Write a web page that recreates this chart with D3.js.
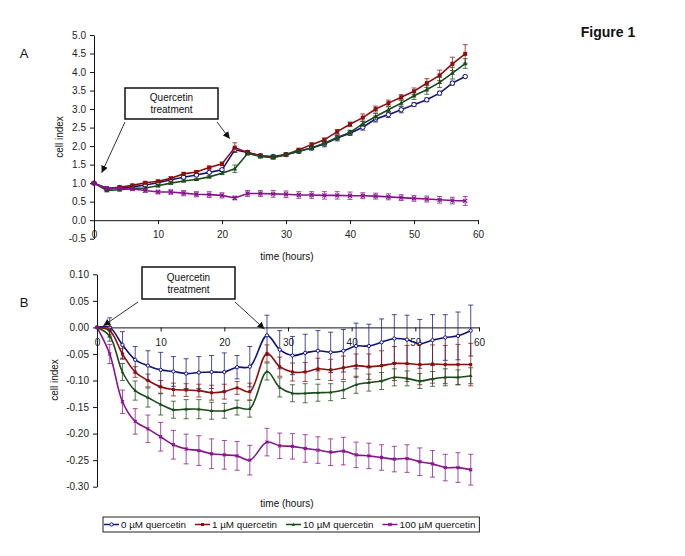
<!DOCTYPE html>
<html>

<head>
  <title>Figure 1</title>
</head>

<body>

  <svg id="svg" width="685" height="556"></svg>

  <script src="https://d3js.org/d3.v7.min.js"></script>
  <script>
    // hours for panel A and panel B (B is shifted a bit after the second treatment)
    const hoursA = [0, 2, 4, 6, 8, 10, 12, 14, 16, 18, 20, 22, 24, 26, 28, 30, 32, 34, 36, 38, 40, 42, 44, 46, 48, 50, 52, 54, 56, 58]
    const hoursB = [0, 2, 4, 6, 8, 10, 12, 14, 16, 18, 20, 22, 24, 26.7, 28.7, 30.7, 32.7, 34.7, 36.7, 38.7, 40.7, 42.7, 44.7, 46.7, 48.7, 50.7, 52.7, 54.7, 56.7, 58.7]

    const labels = ['0 µM quercetin', '1 µM quercetin', '10 µM quercetin', '100 µM quercetin']

    // panel A cell index
    const cellA0 = [1.00, 0.84, 0.88, 0.90, 0.95, 1.01, 1.09, 1.16, 1.22, 1.29, 1.36, 1.90, 1.83, 1.74, 1.72, 1.77, 1.86, 1.95, 2.06, 2.22, 2.35, 2.51, 2.73, 2.85, 2.98, 3.12, 3.25, 3.43, 3.70, 3.88]
    const cellA1 = [1.00, 0.86, 0.89, 0.94, 1.01, 1.05, 1.13, 1.25, 1.30, 1.42, 1.52, 1.96, 1.83, 1.74, 1.70, 1.77, 1.90, 2.04, 2.17, 2.39, 2.59, 2.77, 3.00, 3.16, 3.32, 3.48, 3.70, 3.91, 4.22, 4.49]
    const cellA10 = [1.00, 0.80, 0.82, 0.86, 0.87, 0.93, 1.00, 1.06, 1.10, 1.17, 1.27, 1.39, 1.80, 1.72, 1.69, 1.77, 1.86, 1.95, 2.08, 2.23, 2.37, 2.60, 2.80, 2.98, 3.16, 3.36, 3.52, 3.72, 3.97, 4.23]
    const cellA100 = [1.00, 0.86, 0.86, 0.84, 0.80, 0.76, 0.76, 0.73, 0.70, 0.69, 0.67, 0.60, 0.72, 0.72, 0.71, 0.70, 0.68, 0.68, 0.67, 0.67, 0.66, 0.66, 0.65, 0.63, 0.61, 0.59, 0.57, 0.55, 0.53, 0.52]

    const errA0 = [0.02, 0.03, 0.03, 0.03, 0.03, 0.03, 0.03, 0.03, 0.03, 0.03, 0.04, 0.06, 0.04, 0.04, 0.04, 0.04, 0.05, 0.05, 0.08, 0.08, 0.06, 0.08, 0.08, 0.08, 0.08, 0.05, 0.05, 0.05, 0.05, 0.03]
    const errA1 = [0.02, 0.03, 0.03, 0.03, 0.03, 0.03, 0.04, 0.04, 0.04, 0.04, 0.05, 0.13, 0.05, 0.04, 0.04, 0.04, 0.04, 0.05, 0.05, 0.06, 0.06, 0.10, 0.08, 0.08, 0.07, 0.09, 0.12, 0.14, 0.18, 0.25]
    const errA10 = [0.02, 0.03, 0.03, 0.03, 0.03, 0.03, 0.03, 0.03, 0.03, 0.03, 0.04, 0.10, 0.04, 0.04, 0.04, 0.04, 0.04, 0.05, 0.05, 0.06, 0.06, 0.07, 0.08, 0.08, 0.08, 0.10, 0.12, 0.14, 0.16, 0.13]
    const errA100 = [0.02, 0.03, 0.03, 0.04, 0.05, 0.05, 0.06, 0.07, 0.07, 0.08, 0.07, 0.05, 0.08, 0.08, 0.09, 0.09, 0.09, 0.09, 0.10, 0.10, 0.10, 0.08, 0.08, 0.08, 0.08, 0.08, 0.08, 0.09, 0.09, 0.12]

    // panel B cell index
    const cellB0 = [0, 0, -0.033, -0.061, -0.072, -0.080, -0.083, -0.087, -0.085, -0.084, -0.084, -0.075, -0.074, -0.015, -0.042, -0.053, -0.048, -0.044, -0.047, -0.044, -0.035, -0.035, -0.028, -0.021, -0.023, -0.031, -0.024, -0.019, -0.016, -0.006]
    const cellB1 = [0, -0.006, -0.050, -0.084, -0.100, -0.112, -0.117, -0.118, -0.119, -0.123, -0.121, -0.114, -0.121, -0.049, -0.074, -0.084, -0.084, -0.078, -0.080, -0.076, -0.072, -0.074, -0.072, -0.068, -0.068, -0.070, -0.069, -0.070, -0.070, -0.070]
    const cellB10 = [0, -0.016, -0.084, -0.119, -0.132, -0.145, -0.155, -0.154, -0.154, -0.157, -0.157, -0.151, -0.153, -0.083, -0.113, -0.124, -0.124, -0.123, -0.122, -0.118, -0.108, -0.104, -0.101, -0.094, -0.096, -0.101, -0.097, -0.094, -0.094, -0.091]
    const cellB100 = [0, -0.050, -0.140, -0.177, -0.191, -0.206, -0.221, -0.229, -0.232, -0.238, -0.240, -0.242, -0.250, -0.216, -0.223, -0.224, -0.228, -0.231, -0.235, -0.233, -0.240, -0.242, -0.245, -0.248, -0.247, -0.253, -0.257, -0.264, -0.264, -0.268]

    const errB0 = [0, 0.018, 0.025, 0.025, 0.028, 0.033, 0.028, 0.028, 0.030, 0.031, 0.036, 0.022, 0.038, 0.038, 0.036, 0.036, 0.035, 0.038, 0.038, 0.040, 0.043, 0.041, 0.044, 0.045, 0.046, 0.046, 0.048, 0.043, 0.045, 0.048]
    const errB1 = [0, 0.008, 0.010, 0.010, 0.012, 0.012, 0.012, 0.012, 0.012, 0.014, 0.014, 0.012, 0.016, 0.016, 0.018, 0.017, 0.018, 0.020, 0.020, 0.022, 0.022, 0.024, 0.028, 0.032, 0.034, 0.038, 0.036, 0.036, 0.038, 0.040]
    const errB10 = [0, 0.010, 0.016, 0.018, 0.018, 0.020, 0.016, 0.018, 0.018, 0.016, 0.014, 0.014, 0.016, 0.016, 0.018, 0.016, 0.018, 0.016, 0.016, 0.016, 0.016, 0.016, 0.016, 0.016, 0.014, 0.014, 0.014, 0.016, 0.014, 0.015]
    const errB100 = [0, 0.018, 0.022, 0.024, 0.026, 0.027, 0.027, 0.028, 0.028, 0.028, 0.027, 0.027, 0.028, 0.026, 0.024, 0.024, 0.026, 0.025, 0.025, 0.026, 0.024, 0.024, 0.024, 0.024, 0.026, 0.026, 0.025, 0.025, 0.028, 0.029]

    const ticksX = [0, 10, 20, 30, 40, 50, 60]
    const ticksA = [-0.5, 0, 0.5, 1, 1.5, 2, 2.5, 3, 3.5, 4, 4.5, 5]
    const ticksB = [-0.30, -0.25, -0.20, -0.15, -0.10, -0.05, 0, 0.05, 0.10]

    const colors = ['#12127a', '#8c0e0e', '#1b4a1b', '#86148a']
    const markers = ['circle', 'square', 'triangle', 'cross']

    const series = labels.map((name, i) => ({
      name: name,
      color: colors[i],
      marker: markers[i],
      a: [cellA0, cellA1, cellA10, cellA100][i],
      ea: [errA0, errA1, errA10, errA100][i],
      b: [cellB0, cellB1, cellB10, cellB100][i],
      eb: [errB0, errB1, errB10, errB100][i]
    }))

    const font = 'Liberation Sans, Arial, sans-serif'
    const svg = d3.select('#svg')
      .style('font-family', font)

    svg.append('rect').attr('width', 685).attr('height', 556).attr('fill', 'white')

    svg.append('defs').append('marker')
      .attr('id', 'arrow')
      .attr('viewBox', '0 0 10 10')
      .attr('refX', 10).attr('refY', 5)
      .attr('markerWidth', 7).attr('markerHeight', 7)
      .attr('markerUnits', 'userSpaceOnUse')
      .attr('orient', 'auto')
      .append('path')
      .attr('d', 'M0,0L10,5L0,10Z')
      .attr('fill', '#111')

    function drawMarker(g, type, x, y, color, s) {
      if (type === 'circle') {
        g.append('circle').attr('cx', x).attr('cy', y).attr('r', s * 0.55)
          .attr('fill', 'white').attr('stroke', color).attr('stroke-width', 1)
      } else if (type === 'square') {
        g.append('rect').attr('x', x - s / 2).attr('y', y - s / 2).attr('width', s).attr('height', s)
          .attr('fill', color)
      } else if (type === 'triangle') {
        const h = s * 0.6
        g.append('path').attr('d', `M${x},${y - h}L${x + h},${y + h * 0.7}L${x - h},${y + h * 0.7}Z`)
          .attr('fill', color)
      } else {
        const h = s * 0.5
        g.append('path').attr('d', `M${x - h},${y - h}L${x + h},${y + h}M${x - h},${y + h}L${x + h},${y - h}`)
          .attr('stroke', color).attr('stroke-width', 1.2)
      }
    }

    function drawPanel(opts) {
      const { xscale, yscale, hours, key, ekey, ticksY, fmt, curve, msize, pad } = opts
      const g = svg.append('g')

      // axes
      g.append('g')
        .attr('transform', `translate(${xscale(0)},0)`)
        .call(d3.axisLeft(yscale).tickValues(ticksY).tickFormat(fmt).tickSize(4).tickSizeOuter(0).tickPadding(4))
      g.append('g')
        .attr('transform', `translate(0,${yscale(0)})`)
        .call(d3.axisBottom(xscale).tickValues(ticksX).tickSize(4).tickSizeOuter(0).tickPadding(pad))
      g.selectAll('.tick text').attr('font-size', 10).attr('font-family', font).attr('fill', '#222')
      g.selectAll('.domain, .tick line').attr('stroke', '#111')

      series.forEach(s => {
        const pts = hours.map((h, i) => ({ h: h, v: s[key][i], e: s[ekey][i] }))
        // error bars
        const eb = g.append('g').attr('stroke', s.color).attr('stroke-opacity', 0.75).attr('stroke-width', 1)
        pts.forEach(d => {
          if (!d.e) return
          const x = xscale(d.h)
          eb.append('line').attr('x1', x).attr('x2', x)
            .attr('y1', yscale(d.v - d.e)).attr('y2', yscale(d.v + d.e))
          eb.append('line').attr('x1', x - 2.5).attr('x2', x + 2.5)
            .attr('y1', yscale(d.v - d.e)).attr('y2', yscale(d.v - d.e))
          eb.append('line').attr('x1', x - 2.5).attr('x2', x + 2.5)
            .attr('y1', yscale(d.v + d.e)).attr('y2', yscale(d.v + d.e))
        })
        const linegen = d3.line()
          .x(d => xscale(d.h))
          .y(d => yscale(d.v))
          .curve(curve)
        g.append('path')
          .attr('d', linegen(pts))
          .attr('fill', 'none')
          .attr('stroke', s.color)
          .attr('stroke-width', 1.6)
        const mg = g.append('g')
        pts.forEach(d => drawMarker(mg, s.marker, xscale(d.h), yscale(d.v), s.color, msize))
      })
      return g
    }

    // ---- panel A ----
    const xA = d3.scaleLinear().domain([0, 60]).range([94, 478])
    const yA = d3.scaleLinear().domain([-0.5, 5]).range([238.7, 35])
    drawPanel({ xscale: xA, yscale: yA, hours: hoursA, key: 'a', ekey: 'ea', ticksY: ticksA, fmt: d => d.toFixed(1), curve: d3.curveLinear, msize: 4, pad: 7 })

    // ---- panel B ----
    const xB = d3.scaleLinear().domain([0, 60]).range([97, 479])
    const yB = d3.scaleLinear().domain([-0.30, 0.10]).range([486.7, 274.3])
    drawPanel({ xscale: xB, yscale: yB, hours: hoursB, key: 'b', ekey: 'eb', ticksY: ticksB, fmt: d => d.toFixed(2), curve: d3.curveCatmullRom, msize: 3, pad: 8 })

    // titles
    function text(x, y, str, size, extra) {
      const t = svg.append('text').attr('x', x).attr('y', y).text(str)
        .attr('font-size', size).attr('text-anchor', 'middle').attr('dominant-baseline', 'central').attr('fill', '#111')
      if (extra) extra(t)
      return t
    }
    text(608, 32, 'Figure 1', 14, t => t.attr('font-weight', 'bold'))
    text(24, 53, 'A', 13)
    text(24, 302, 'B', 13)
    text(287, 256, 'time (hours)', 10)
    text(287, 503, 'time (hours)', 10)
    text(59, 137, 'cell index', 10, t => t.attr('transform', 'rotate(-90,59,137)'))
    text(54, 380, 'cell index', 10, t => t.attr('transform', 'rotate(-90,54,380)'))

    // treatment callouts
    function callout(x, y, w, h, arrows) {
      svg.append('rect').attr('x', x).attr('y', y).attr('width', w).attr('height', h)
        .attr('fill', 'white').attr('stroke', '#111').attr('stroke-width', 1.5)
      text(x + w / 2, y + h / 2 - 6, 'Quercetin', 10)
      text(x + w / 2, y + h / 2 + 6, 'treatment', 10)
      arrows.forEach(a => {
        svg.append('line').attr('x1', a[0]).attr('y1', a[1]).attr('x2', a[2]).attr('y2', a[3])
          .attr('stroke', '#333').attr('stroke-width', 1).attr('marker-end', 'url(#arrow)')
      })
    }
    callout(125, 88, 93, 31, [[125, 122, xA(1.2), yA(1.28)], [217, 122, xA(21.2), yA(2.2)]])
    callout(142, 267, 93, 32, [[138, 302, xB(1.0), yB(0.003)], [235, 302, xB(26.3), yB(-0.003)]])

    // legend
    const legend = svg.append('g')
    const lx0 = 103, ly = 524.5
    let lx = lx0 + 1
    series.forEach(s => {
      legend.append('line').attr('x1', lx).attr('x2', lx + 15).attr('y1', ly).attr('y2', ly)
        .attr('stroke', s.color).attr('stroke-width', 1.5)
      drawMarker(legend, s.marker, lx + 7.5, ly, s.color, 3)
      const t = legend.append('text').attr('x', lx + 17).attr('y', ly).text(s.name)
        .attr('font-size', 9.8).attr('dominant-baseline', 'central').attr('fill', '#111')
      lx += 17 + t.node().getComputedTextLength() + 9
    })
    legend.insert('rect', ':first-child').attr('x', lx0).attr('y', 517).attr('width', lx - lx0 - 5).attr('height', 15)
      .attr('fill', 'white').attr('stroke', '#222').attr('stroke-width', 1)
  </script>
</body>

<style>
  body,
  html {
    margin: 0;
    padding: 0;
  }
</style>

</html>
